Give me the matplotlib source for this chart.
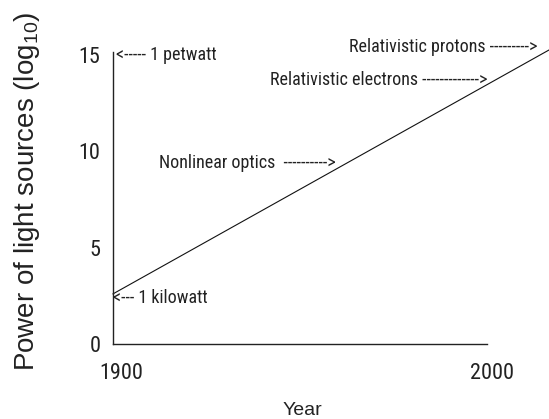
import matplotlib
matplotlib.use("Agg")
import matplotlib.pyplot as plt
from matplotlib.transforms import ScaledTranslation

# ---- data ----
years = [1900, 2017]
log_power = [2.6, 15.3]
x_ticks = [1900, 2000]
x_tick_labels = ["1900", "2000"]
y_ticks = [0, 5, 10, 15]
y_tick_labels = ["0", "5", "10", "15"]

narrow = ["Roboto Condensed", "Liberation Sans", "DejaVu Sans"]
regular = ["Liberation Sans", "DejaVu Sans"]
plt.rcParams["font.family"] = narrow
plt.rcParams["mathtext.fontset"] = "custom"
plt.rcParams["mathtext.rm"] = "Liberation Sans"
plt.rcParams["mathtext.it"] = "Liberation Sans"
tc = "#222222"

fig = plt.figure(figsize=(5.49, 4.19), dpi=100)
ax = fig.add_axes([113/549, (419-344)/419, 374/549, 292/419])
ax.set_xlim(1900, 2000)
ax.set_ylim(0, 15.15)

ax.plot(years, log_power, color="#111111", lw=0.8, clip_on=False)

for s in ["top", "right"]:
    ax.spines[s].set_visible(False)
for s in ["left", "bottom"]:
    ax.spines[s].set_color("#222222")
    ax.spines[s].set_linewidth(1.0)

ax.set_xticks(x_ticks)
ax.set_xticklabels(x_tick_labels)
ax.set_yticks(y_ticks)
ax.set_yticklabels(y_tick_labels)
ax.tick_params(axis="both", length=0, labelsize=16, labelcolor=tc)
ax.tick_params(axis="y", pad=9)
ax.tick_params(axis="x", pad=14)
offs = [0.08, 0.05]
for lab, dx in zip(ax.get_xticklabels(), offs):
    lab.set_transform(lab.get_transform() + ScaledTranslation(dx, 0, fig.dpi_scale_trans))

fig.text(27/549, 1 - 191/419, "Power of light sources (log$\\mathregular{_{10}}$)", rotation=90,
         ha="center", va="center", fontsize=20, color=tc, family=regular)
fig.text(302/549, 1 - 410/419, "Year", ha="center", va="center", fontsize=14, color=tc, family=regular)

ann = dict(fontsize=13, color=tc, va="center")
ax.text(1900.8, 15.0, "<----- 1 petwatt", ha="left", **ann)
ax.text(2013.4, 15.41, "Relativistic protons --------->", ha="right", clip_on=False, **ann)
ax.text(2000.0, 13.7, "Relativistic electrons ------------->", ha="right", clip_on=False, **ann)
ax.text(1959.4, 9.39, "Nonlinear optics  ---------->", ha="right", **ann)
ax.text(1900.0, 2.39, "<--- 1 kilowatt", ha="left", **ann)

fig.savefig("out.png", dpi=100)
